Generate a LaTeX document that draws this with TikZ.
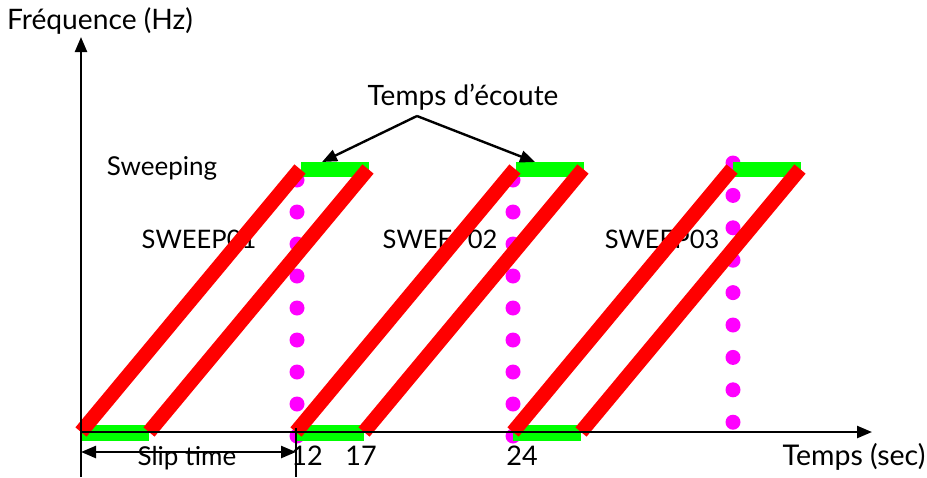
\documentclass[tikz,border=0pt]{standalone}
\usepackage{fontspec}
\setmainfont{Lato}
\usetikzlibrary{arrows.meta}
\definecolor{redline}{RGB}{255,0,0}
\definecolor{greenbar}{RGB}{0,255,0}
\definecolor{dotmag}{RGB}{255,0,255}
\newcommand{\fsz}[1]{\fontsize{#1}{#1}\selectfont}
\begin{document}
\begin{tikzpicture}[x=1pt,y=-1pt,
  lbl/.style={font=\fsz{27}, inner sep=0pt, anchor=base},
  redl/.style={draw=redline, line width=14.5pt},
  gbar/.style={fill=greenbar, draw=none},
  mdot/.style={fill=dotmag, draw=none, circle, minimum size=15pt, inner sep=0pt},
  axisl/.style={line width=2.4pt, -{Triangle[length=15pt,width=12pt]}},
  conn/.style={line width=2.4pt, -{Triangle[length=15pt,width=12pt]}},
  slip/.style={line width=2.4pt, {Triangle[length=15pt,width=12pt]}-{Triangle[length=15pt,width=12pt]}}]
\useasboundingbox (0,0) rectangle (927,477);
% texts
\node[lbl, font=\fsz{28.2}] (freq) at (100,29) {Fréquence (Hz)};
\node[lbl, font=\fsz{28}] (ecoute) at (463,105) {Temps d’écoute};
\node[lbl, font=\fsz{26}] (sweeping) at (162,175) {Sweeping};
\node[lbl, font=\fsz{25.5}] (s1) at (199,248) {SWEEP01};
\node[lbl, font=\fsz{25.5}] (s2) at (440,248) {SWEEP02};
\node[lbl, font=\fsz{25.5}] (s3) at (662,248) {SWEEP03};
\node[lbl, font=\fsz{26}] (sliptxt) at (187,465) {Slip time};
\node[lbl] (t12) at (307,465) {12};
\node[lbl] (t17) at (361,465) {17};
\node[lbl] (t24) at (522,465) {24};
\node[lbl, font=\fsz{28.5}] (temps) at (854,465) {Temps (sec)};
% dots
\foreach \i in {0,...,8} {
  \node[mdot] (da\i) at (297,180+32*\i) {};
  \node[mdot] (db\i) at (513,180+32*\i) {};
  \node[mdot] (dc\i) at (733,163+32.4*\i) {};
}
% sweeps
\foreach \x in {81,296,513} {
  \fill[gbar] (\x,425) rectangle (\x+68,441);
  \fill[gbar] (\x+220,162) rectangle (\x+288,177);
  \draw[redl] (\x,432) -- (\x+219,169);
  \draw[redl] (\x+68,432) -- (\x+287,169);
}
% axes
\coordinate (o) at (81,432);
\coordinate (ybot) at (81,477);
\coordinate (ytop) at (81,37);
\coordinate (xend) at (872,432);
\draw[axisl] (ybot) -- (ytop);
\draw[axisl] (o) -- (xend);
% slip time
\coordinate (sl) at (81,452);
\coordinate (sr) at (296,452);
\coordinate (vt) at (296,428);
\coordinate (vb) at (296,477);
\draw[line width=2.4pt] (vt) -- (vb);
\draw[slip] (sl) -- (sr);
% temps d'ecoute connectors
\coordinate (ec) at (417,116);
\coordinate (g1) at (322,162);
\coordinate (g2) at (535,162);
\draw[conn] (ec) -- (g1);
\draw[conn] (ec) -- (g2);
\end{tikzpicture}
\end{document}
